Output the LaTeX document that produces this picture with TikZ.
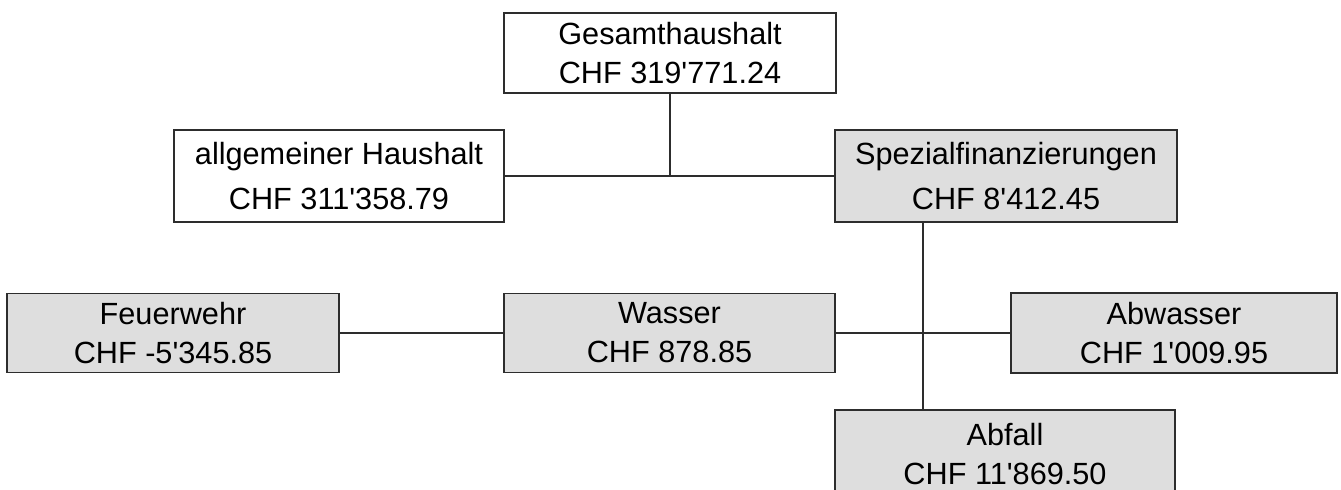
\documentclass[tikz,border=0pt]{standalone}
\usepackage{fontspec}
\setmainfont{Liberation Sans}
\definecolor{boxgray}{RGB}{222,222,222}
\definecolor{linegray}{RGB}{45,45,45}
\newcommand{\ap}{\textquotesingle}
\begin{document}
\begin{tikzpicture}[x=0.75pt,y=0.75pt,yscale=-1,xscale=1,
  whitebox/.style={draw=linegray,line width=1pt,fill=white,align=center,inner sep=0pt,
    font=\fontsize{23}{29.3}\selectfont},
  graybox/.style={whitebox,fill=boxgray},
  link/.style={draw=linegray,line width=1pt}]
%set diagram size to the reference, and cut the lowest box
\useasboundingbox (0,0) rectangle (1341,489);
\clip (0,0) rectangle (1341,489);

% Top box
\node [whitebox,minimum width=332*0.75pt,minimum height=80*0.75pt] (ges) at (670,53) {Gesamthaushalt\\CHF 319\ap771.24};
% Second row
\node [whitebox,minimum width=330*0.75pt,minimum height=92*0.75pt] (allg) at (339,176) {allgemeiner Haushalt\\[5pt]CHF 311\ap358.79};
\node [graybox,minimum width=342*0.75pt,minimum height=92*0.75pt] (spez) at (1006,176) {Spezialfinanzierungen\\[5pt]CHF 8\ap412.45};
% Third row
\node [graybox,minimum width=332*0.75pt,minimum height=79*0.75pt] (feuer) at (173,333) {Feuerwehr\\CHF -5\ap345.85};
\node [graybox,minimum width=331*0.75pt,minimum height=79*0.75pt] (wasser) at (669.5,333) {Wasser\\CHF 878.85};
\node [graybox,minimum width=326*0.75pt,minimum height=80*0.75pt] (abw) at (1174,333) {Abwasser\\CHF 1\ap009.95};
% Last box, runs below the page edge
\node [graybox,minimum width=340*0.75pt,minimum height=88*0.75pt] (abfall) at (1005,454) {Abfall\\CHF 11\ap869.50};

%Straight Lines
\coordinate (knot) at (923,333);
\draw [link] (ges.south) -- (ges.south |- allg.east);
\draw [link] (allg.east) -- (spez.west);
\draw [link] (spez.south -| knot) -- (abfall.north -| knot);
\draw [link] (feuer.east) -- (wasser.west);
\draw [link] (wasser.east) -- (abw.west);

\end{tikzpicture}
\end{document}
